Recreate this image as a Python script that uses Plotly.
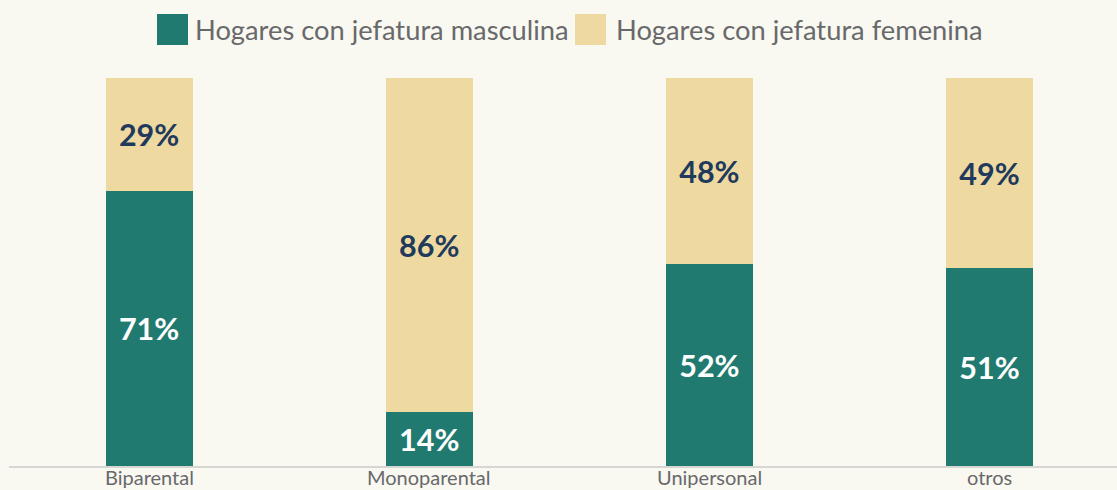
import plotly.graph_objects as go

categories = ["Biparental", "Monoparental", "Unipersonal", "otros"]
masculina = [71, 14, 52, 51]
femenina = [29, 86, 48, 49]
series_names = ["Hogares con jefatura masculina", "Hogares con jefatura femenina"]

TEAL = "#217a6f"
BEIGE = "#eed9a0"
BG = "#f9f8f1"
NAVY = "#1f3a5c"
GREY = "#68696b"

W, H = 1117, 490
ml, mr, mt, mb = 9, 0, 78, 24
pw, ph = W - ml - mr, H - mt - mb

fig = go.Figure()
fig.add_trace(go.Bar(
    x=categories, y=masculina, name=series_names[0],
    marker=dict(color=TEAL, line=dict(width=0)),
    text=[f"{v}%" for v in masculina], textposition="inside",
    insidetextanchor="middle", textangle=0, constraintext="none",
    textfont=dict(color="white", size=30.5, family="Lato", weight="bold"),
    width=0.31, showlegend=False,
))
fig.add_trace(go.Bar(
    x=categories, y=femenina, name=series_names[1],
    marker=dict(color=BEIGE, line=dict(width=0)),
    text=[f"{v}%" for v in femenina], textposition="inside",
    insidetextanchor="middle", textangle=0, constraintext="none",
    textfont=dict(color=NAVY, size=30.5, family="Lato", weight="bold"),
    width=0.31, showlegend=False,
))

# category labels under the axis line (kept fully inside the page)
for c in categories:
    fig.add_annotation(x=c, xref="x", y=-mb / ph, yref="paper", text=c, showarrow=False,
                       xanchor="center", yanchor="bottom", borderpad=0,
                       font=dict(size=20, color=GREY, family="Lato"))

def px_x(x):
    return (x - ml) / pw

def px_y(y):
    return (H - mb - y) / ph

legend_items = [(157, 193, TEAL, series_names[0]), (575, 614, BEIGE, series_names[1])]
for sx, tx, col, name in legend_items:
    fig.add_shape(type="rect", xref="paper", yref="paper",
                  x0=px_x(sx), x1=px_x(sx + 31), y0=px_y(45), y1=px_y(14),
                  fillcolor=col, line=dict(width=0))
    fig.add_annotation(xref="paper", yref="paper", x=px_x(tx), y=px_y(29.5),
                       text=name, showarrow=False, xanchor="left", yanchor="middle",
                       font=dict(size=27.3, color=GREY, family="Lato"))

fig.update_layout(
    barmode="stack",
    width=W, height=H,
    margin=dict(l=ml, r=mr, t=mt, b=mb, autoexpand=False),
    paper_bgcolor=BG, plot_bgcolor=BG,
    font=dict(family="Lato", color=GREY),
    showlegend=False,
    xaxis=dict(range=[-0.5, 3.455], showline=True, linecolor="#d6d6d3", linewidth=2,
               ticks="", showticklabels=False, automargin=False,
               showgrid=False, zeroline=False, fixedrange=True),
    yaxis=dict(range=[0, 100], visible=False, showgrid=False, zeroline=False,
               automargin=False),
)

fig.write_html("out.html", config={"displayModeBar": False},
               post_script="document.body.style.margin='0';")
